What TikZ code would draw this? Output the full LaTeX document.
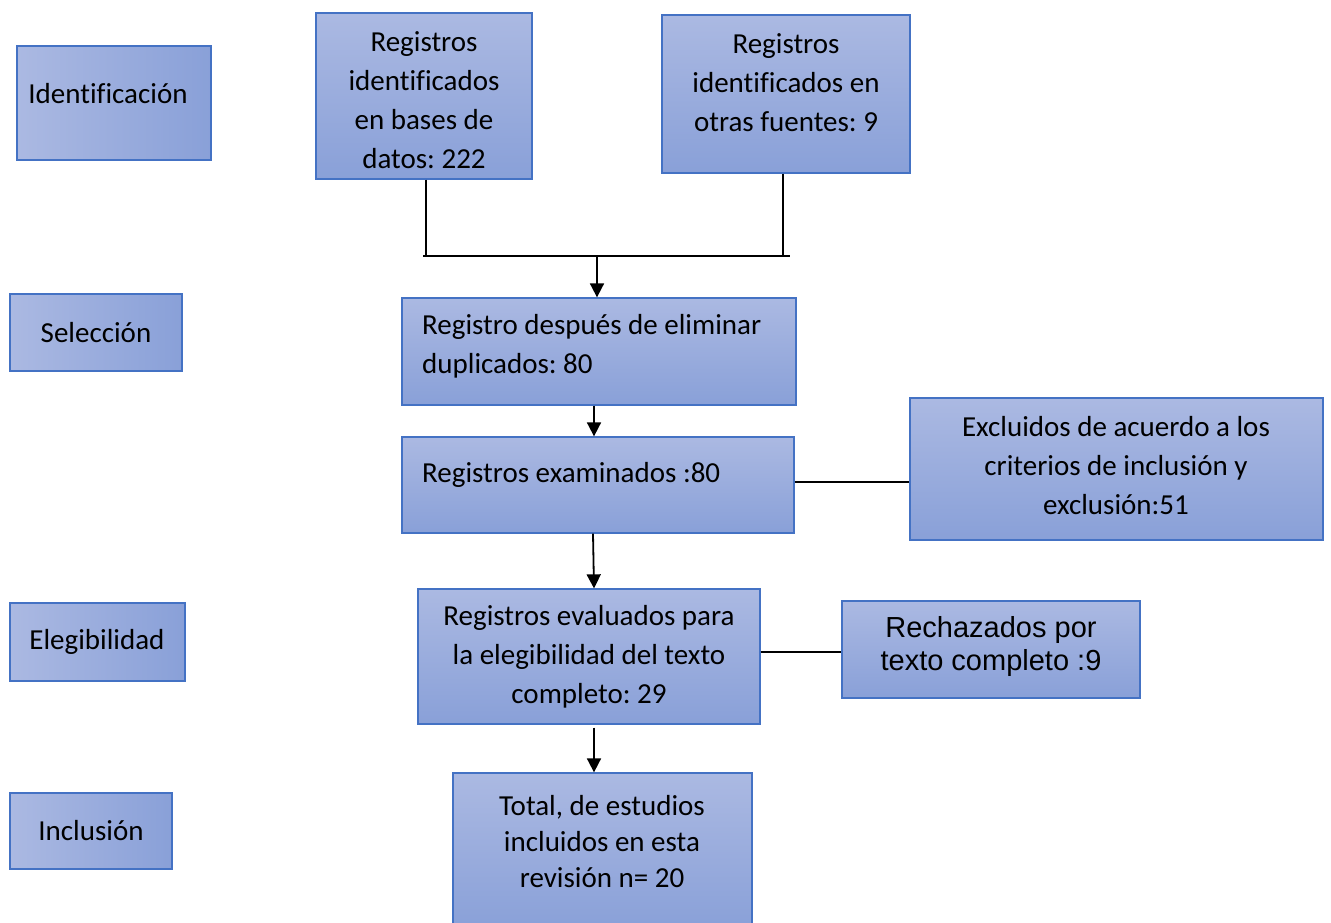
\documentclass[tikz,border=0pt]{standalone}
\usepackage{fontspec}
\setmainfont{Carlito}[Ligatures=NoCommon]
\newfontfamily\arialf{Liberation Sans}
\usetikzlibrary{arrows.meta}
\definecolor{boxlight}{RGB}{171,185,226}
\definecolor{boxdark}{RGB}{137,160,216}
\definecolor{boxborder}{RGB}{68,114,196}
\frenchspacing
\begin{document}
\begin{tikzpicture}[x=1pt,y=-1pt,
  vbox/.style={draw=boxborder,line width=1.3pt,top color=boxlight,bottom color=boxdark,rectangle,inner sep=0pt},
  hbox/.style={draw=boxborder,line width=1.3pt,left color=boxlight,right color=boxdark,rectangle,inner sep=0pt},
  txt/.style={font=\fontsize{29}{39}\selectfont,align=center,inner sep=0pt},
  conn/.style={line width=1.8pt},
  arr/.style={conn,-{Triangle[width=14pt,length=14pt]}}]
\useasboundingbox (0,0) rectangle (1331,922);
% left stage boxes
\node[hbox,minimum width=194pt,minimum height=114pt] (bId) at (114,103) {};
\node[hbox,minimum width=172pt,minimum height=77pt] (bSel) at (96,332.5) {};
\node[hbox,minimum width=175pt,minimum height=78pt] (bEle) at (97.5,642) {};
\node[hbox,minimum width=162pt,minimum height=76pt] (bInc) at (91,831) {};
\node[txt] (tId) at (108,94) {Identificación};
\node[txt] (tSel) at (96,333) {Selección};
\node[txt] (tEle) at (97,642) {Elegibilidad};
\node[txt] (tInc) at (91,831) {Inclusión};
% main boxes
\node[vbox,minimum width=216pt,minimum height=166pt] (boxA) at (424,96) {};
\node[vbox,minimum width=248pt,minimum height=158pt] (boxB) at (786,94) {};
\node[vbox,minimum width=394pt,minimum height=107pt] (boxC) at (599,351.5) {};
\node[vbox,minimum width=392pt,minimum height=96pt] (boxD) at (598,485) {};
\node[vbox,minimum width=413pt,minimum height=142pt] (boxE) at (1116.5,469) {};
\node[vbox,minimum width=342pt,minimum height=135pt] (boxF) at (589,656.5) {};
\node[vbox,minimum width=298pt,minimum height=97pt] (boxG) at (991,649.5) {};
\node[vbox,minimum width=299pt,minimum height=157pt] (boxH) at (602.5,851.5) {};
\node[txt] (tA) at (424,100) {Registros\\identificados\\en bases de\\datos: 222};
\node[txt] (tB) at (786,83) {Registros\\identificados en\\otras fuentes: 9};
\node[txt,align=left,anchor=west] (tC) at (422,346.5) {Registro después de eliminar\\duplicados: 80};
\node[txt,align=left,anchor=west] (tD) at (422,475) {Registros examinados :80};
\node[txt] (tE) at (1116,466) {Excluidos de acuerdo a los\\criterios de inclusión y\\exclusión:51};
\node[txt] (tF) at (589,656.5) {Registros evaluados para\\la elegibilidad del texto\\completo: 29};
\node[txt,font=\arialf\fontsize{29}{33}\selectfont] (tG) at (991,646.5) {Rechazados por\\texto completo :9};
\node[txt,font=\fontsize{29}{36}\selectfont] (tH) at (602,842) {Total, de estudios\\incluidos en esta\\revisión n= 20};
% connectors
\coordinate (jEndL) at (423,256);
\coordinate (jEndR) at (790,256);
\coordinate (jMid) at (597,256);
\draw[conn] ([xshift=2pt]boxA.south) -- ([xshift=2pt]boxA.south |- jMid);
\draw[conn] ([xshift=-3pt]boxB.south) -- ([xshift=-3pt]boxB.south |- jMid);
\draw[conn] (jEndL) -- (jEndR);
\draw[arr] (jMid) -- (jMid |- boxC.north);
\draw[arr] ([xshift=-5pt]boxC.south) -- ([xshift=-5pt]boxC.south |- boxD.north);
\draw[conn] ([yshift=3pt]boxD.east) -- ([yshift=3pt]boxD.east -| boxE.west);
\draw[arr] ([xshift=-5pt]boxD.south) -- ([xshift=5pt]boxF.north);
\draw[conn] ([yshift=4.5pt]boxF.east) -- ([yshift=4.5pt]boxF.east -| boxG.west);
\draw[arr,shorten <=3pt] ([xshift=5pt]boxF.south) -- ([xshift=5pt]boxF.south |- boxH.north);
\end{tikzpicture}
\end{document}
